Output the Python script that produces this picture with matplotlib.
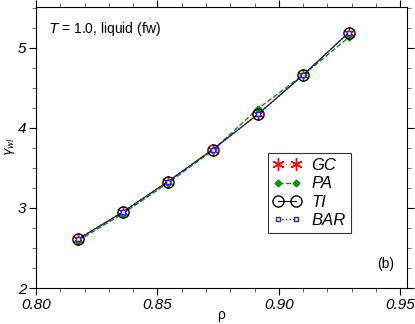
import numpy as np
import matplotlib.pyplot as plt
from matplotlib.ticker import MultipleLocator

plt.rcParams['font.family'] = ['Liberation Sans', 'DejaVu Sans']

# densities and gamma_wl estimates from the four methods
rho = [0.8173, 0.8358, 0.8543, 0.8728, 0.8914, 0.9100, 0.9288]
gc = [2.61, 2.95, 3.33, 3.73, 4.17, 4.66, 5.19]
pa = [2.59, 2.93, 3.31, 3.72, 4.24, 4.66, 5.13]
ti = [2.61, 2.95, 3.33, 3.73, 4.17, 4.66, 5.19]
bar = [2.61, 2.95, 3.33, 3.73, 4.17, 4.66, 5.19]

fig = plt.figure(figsize=(4.15, 3.24), dpi=100)
ax = fig.add_axes([36 / 415, 36 / 324, 371 / 415, 281 / 324])

ax.plot(rho, gc, ':', color='#ff8080', lw=1, marker=(6, 2, 0), ms=9,
        mec='red', mew=1, label='GC')
ax.plot(rho, pa, '--', color='#109010', lw=1, marker='D', ms=3.5,
        mfc='#109010', mec='#109010', label='PA')
ax.plot(rho, ti, '-', color='black', lw=0.8, marker='o', ms=8,
        mfc='none', mec='black', mew=1, label='TI')
ax.plot(rho, bar, ':', color='#2020ff', lw=1, marker='s', ms=3.5,
        mfc='white', mec='#2020ff', mew=1, label='BAR')

ax.set_xlim(0.80, 0.9528)
ax.set_ylim(2, 5.51)
ax.xaxis.set_major_locator(MultipleLocator(0.05))
ax.xaxis.set_minor_locator(MultipleLocator(0.01))
ax.yaxis.set_major_locator(MultipleLocator(1))
ax.yaxis.set_minor_locator(MultipleLocator(0.25))
ax.xaxis.set_major_formatter(plt.FuncFormatter(lambda v, p: f'{v:.2f}'))
ax.tick_params(which='both', direction='out', top=True, right=True,
               labeltop=False, labelright=False)
ax.tick_params(which='major', length=5, width=0.8, pad=2)
ax.tick_params(which='minor', length=3, width=0.6, color='#555555')
for lab in ax.get_xticklabels() + ax.get_yticklabels():
    lab.set_fontstyle('italic')
    lab.set_fontsize(11)

# axis labels placed by hand, the figure is tight on margins
fig.text(221 / 415, 1 - 315 / 324, 'ρ', fontsize=10, ha='center', va='center')
fig.text(10 / 415, 1 - 147 / 324, r'$\gamma_{wl}$', fontsize=9,
         rotation=90, ha='center', va='center')

ax.text(0.035, 0.955, r'$T$ = 1.0, liquid (fw)', transform=ax.transAxes,
        fontsize=10, va='top', ha='left')
ax.text(0.965, 0.06, '(b)', transform=ax.transAxes, fontsize=10,
        ha='right', va='bottom')

leg = ax.legend(loc='upper left', bbox_to_anchor=(232 / 371, 1 - 146 / 281),
                prop={'style': 'italic', 'size': 12}, frameon=True,
                fancybox=False, edgecolor='black', numpoints=2,
                handlelength=1.7, borderpad=0.3, labelspacing=0.2,
                handletextpad=0.6, borderaxespad=0)
leg.get_frame().set_linewidth(0.8)

fig.savefig('out.png', dpi=100)
